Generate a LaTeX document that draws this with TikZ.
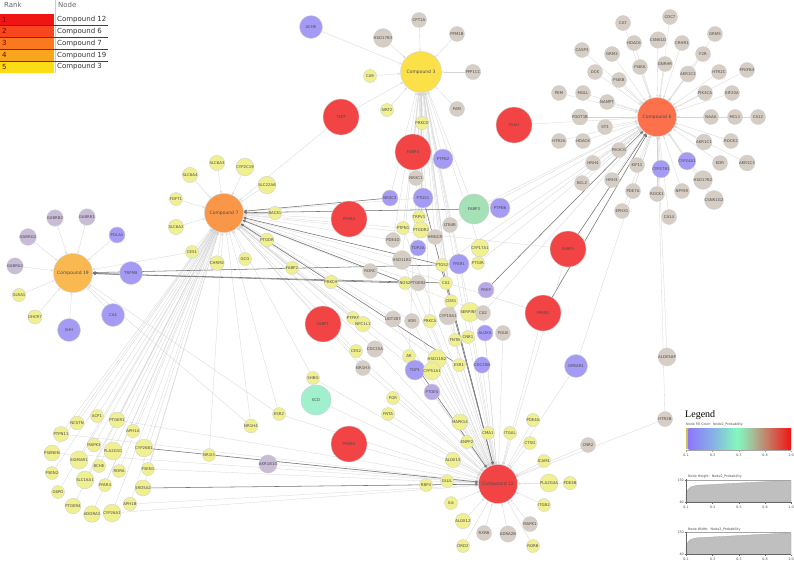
\documentclass[tikz,border=0pt]{standalone}
\usepackage{fontspec}
\setsansfont{DejaVu Sans}
\newfontfamily\legfont{Liberation Serif}
\usetikzlibrary{arrows.meta}
\pgfdeclarelayer{bg}
\pgfsetlayers{bg,main}
\definecolor{cRed}{RGB}{242,68,68}
\definecolor{cSix}{RGB}{252,112,76}
\definecolor{cSev}{RGB}{250,150,72}
\definecolor{cNin}{RGB}{250,185,80}
\definecolor{cThr}{RGB}{252,224,72}
\definecolor{cYel}{RGB}{240,240,145}
\definecolor{cTan}{RGB}{214,205,196}
\definecolor{cPur}{RGB}{165,155,245}
\definecolor{cLav}{RGB}{200,188,215}
\definecolor{cPre}{RGB}{185,168,232}
\definecolor{cGrn}{RGB}{165,225,182}
\definecolor{cAqu}{RGB}{160,240,205}
\definecolor{rA}{RGB}{240,20,20}
\definecolor{rB}{RGB}{250,70,30}
\definecolor{rC}{RGB}{250,120,30}
\definecolor{rD}{RGB}{250,165,30}
\definecolor{rE}{RGB}{252,220,20}
\definecolor{gY}{RGB}{205,195,80}
\definecolor{gA}{RGB}{140,120,250}
\definecolor{gB}{RGB}{135,175,230}
\definecolor{gC}{RGB}{130,248,190}
\definecolor{gD}{RGB}{160,200,160}
\definecolor{gE}{RGB}{200,120,100}
\definecolor{gF}{RGB}{240,20,20}
\tikzset{
 nd/.style={circle, inner sep=0pt, draw=gray!35, line width=0.4pt, text=black!70,
   font=\sffamily\fontsize{3.9}{4.5}\selectfont},
 ys/.style={nd, fill=cYel, minimum size=13pt},
 tn/.style={nd, fill=cTan, minimum size=15pt},
 pu/.style={nd, fill=cPur, minimum size=16pt},
 pm/.style={nd, fill=cPur, minimum size=20pt},
 pb/.style={nd, fill=cPur, minimum size=23pt},
 pl/.style={nd, fill=cPre, minimum size=16pt},
 lp/.style={nd, fill=cLav, minimum size=15pt},
 rd/.style={nd, fill=cRed, minimum size=36pt},
 gr/.style={nd, fill=cGrn, minimum size=30pt},
 aq/.style={nd, fill=cAqu, minimum size=30pt},
 cp/.style={nd, minimum size=39pt, font=\sffamily\fontsize{4.5}{5}\selectfont},
 lnk/.style={draw=gray!33, line width=0.3pt, -{Triangle[open,length=2.4pt,width=2.2pt]}},
 dk/.style={draw=black!55, line width=0.55pt, -{Triangle[length=3pt,width=2.6pt]}},
 tbl/.style={font=\sffamily\fontsize{7}{8}\selectfont, anchor=west, inner sep=0pt},
 tiny/.style={font=\sffamily\fontsize{3.3}{4}\selectfont, text=black!70, inner sep=0pt},
}
\begin{document}
\begin{tikzpicture}[x=1pt,y=-1pt]
\useasboundingbox (0,0) rectangle (794,562);

% rank table
\node[tbl, text=black!60] (hRank) at (4,5) {Rank};
\node[tbl, text=black!60] (hNode) at (58,5) {Node};
\fill[rA] (0,14) rectangle (54,25.5);
\fill[rB] (0,25.5) rectangle (54,37.3);
\fill[rC] (0,37.3) rectangle (54,49.3);
\fill[rD] (0,49.3) rectangle (54,61);
\fill[rE] (0,61) rectangle (54,72.5);
\draw[gray!40, line width=0.4pt] (55,0) -- (55,72.5);
\foreach \yy in {25.5,37.3,49.3,61} \draw[black!75, line width=0.6pt] (0,\yy) -- (108,\yy);
\foreach \k/\t/\yy in {1/Compound 12/19.8,2/Compound 6/31.4,3/Compound 7/43.3,4/Compound 19/55.2,5/Compound 3/66.8}{
  \node[tbl, text=black!55!red] (rk\k) at (2,\yy) {\k};
  \node[tbl, text=black!80] (rn\k) at (57,\yy) {\t};
}

% compounds
\node[cp, fill=cRed] (C12) at (498,484) {Compound 12};
\node[cp, fill=cSix] (C6) at (657,117) {Compound 6};
\node[cp, fill=cSev] (C7) at (224,213) {Compound 7};
\node[cp, fill=cNin] (C19) at (73,273) {Compound 19};
\node[cp, fill=cThr, minimum size=41pt] (C3) at (421,72) {Compound 3};

% nodes
\foreach \s/\n/\x/\y in {
 tn/CA7/623/23, tn/CDC7/670/17, tn/CSNK1D/658/40, tn/HDAC6/634/43, tn/CRHR1/682/43,
 tn/GRM5/715/34, tn/GRM2/612/54, tn/F2R/703/54, tn/PI4KA/640/67, tn/GNRHR/665/64,
 tn/AKR1C2/688/74, tn/HTR2C/719/72, tn/PFKFB3/747/70, tn/PI4KB/619/80, tn/PIK3CA/705/93,
 tn/KIF20A/732/93, tn/NAMPT/607/102, tn/NAAA/711/117, tn/MCL1/735/117, tn/CA12/758/117,
 tn/ST3/605/127, tn/AKR1C1/704/142, tn/ROCK2/731/141, tn/PIK3CG/619/150, tn/KDR/720/163,
 tn/AKR1C3/747/163, tn/KIF11/637/165, tn/HRH3/612/180, tn/HSD17B2/703/180, tn/PDE7A/633/191,
 tn/ROCK1/657/194, tn/NPY5R/682/191, tn/CSNK1G2/714/200, tn/EPHX1/622/211, tn/CA14/669/217,
 tn/CASP3/582/50, tn/DCK/595/72, tn/PKM/559/93, tn/MGLL/583/93, tn/PGGT1B/580/117,
 tn/HTR2A/559/141, tn/HDAC8/583/141, tn/HRH4/593/163, tn/BCL2/582/183, tn/ALOX5AP/667/357,
 tn/HTR2B/665/419, tn/CNR2/588/445, pu/CYP24A1/687/161, pu/CYP27B1/661/169,
 tn/CPT1A/419/20, tn/PPM1B/457/34, tn/PPP1CC/473/72, tn/PAM/457/109, tn/HSD17B3/383/38,
 tn/NR3C1/416/178, ys/CA9/370/76, ys/SIRT2/387/110, ys/PRKCD/422/123, pb/ACHE/311/27,
 pm/PTPN2/443/159,
 rd/TERT/341/117, rd/FABP4/413/152, rd/FAAH/514/125, rd/PPARA/349/219, rd/FABP1/323/324,
 rd/FABP5/568/249, rd/PPARD/543/313, rd/PPARG/349/444,
 lp/GABRB2/55/218, lp/GABRR1/87/217, lp/GABRG2/28/237, lp/GABRA2/15/266, pu/POLA1/117/235,
 pb/TRPM8/131/273, ys/GLRA1/19/295, ys/DHCR7/35/317, pb/CA4/113/315, pb/SHH/69/330,
 ys/SLC6A4/190/175, ys/SLC6A3/217/163, ys/CYP2C19/245/167, ys/SLC22A6/267/185, ys/FDFT1/176/199,
 ys/SLC6A2/176/227, ys/CES1/192/252, ys/BACE1/275/213, ys/PTGDR/267/240, ys/CHRM2/217/263,
 ys/GCG/245/259, ys/FABP2/292/268, ys/PRKCH/331/282,
 pu/NR3C2/390/198, pm/PTGS1/423/198, gr/FABP3/474/209, pm/PTPN6/500/208, ys/TRPV1/419/217,
 ys/PTPN1/403/228, ys/PTGDR2/421/230, tn/LTB4R/450/225, tn/HMGCR/435/237, tn/PDE4D/393/240,
 pu/TOP2A/418/248, ys/CYP17A1/480/248, tn/HSD11B1/402/260, ys/PTGS2/442/265, pm/FFAR1/459/264,
 ys/PTGIR/478/263, tn/RORC/370/271, ys/NOS2/405/283, tn/PTGER2/418/283, ys/CA1/446/283,
 pl/PREP/486/290, ys/CD81/451/301, ys/PTPRF/353/318, ys/NPC1L1/363/324, tn/UGT2B7/393/319,
 tn/VDR/412/321, ys/PRKCA/430/321, tn/CYP19A1/448/316, ys/SERPINE1/470/312, tn/CA2/483/313,
 pu/ALOX5/485/333, tn/POLB/503/333, ys/FNTB/455/340, ys/CNR1/468/337, ys/CES2/356/351,
 tn/CDC25A/375/349, tn/NR1H3/363/368, ys/AR/409/356, ys/HSD11B2/437/359, ys/ESR1/459/365,
 pu/CDC25B/482/365, pb/GPBAR1/576/366, pm/TOP1/415/370, ys/CYP51A1/432/371, pl/PTGES/432/392,
 ys/SHBG/313/378, aq/SCD/316/400, ys/ESR2/279/414, ys/NR1H4/251/426, ys/NR1I3/209/455,
 lp/AKR1B10/268/464, ys/PGR/393/398, ys/FNTA/388/414,
 ys/MAPK14/460/422, ys/PDE4A/533/420, ys/CMA1/488/433, ys/ITGAL/510/433, ys/ENPP2/467/442,
 ys/CTSG/530/443, ys/ALOX15/453/460, ys/ICAM1/544/461, ys/GLUL/447/481, ys/RBP4/426/485,
 ys/PLA2G4A/549/483, ys/PDE4B/570/483, ys/IL6/451/503, ys/ITGB2/544/505, tn/MAPK1/530/524,
 ys/ALOX12/463/521, tn/RXRB/484/533, tn/ADRA2B/508/534, ys/DRD2/463/546, ys/RORB/533/546,
 ys/NCSTN/77/423, ys/ACP1/97/416, ys/PTGER1/117/420, ys/PTPN11/61/434, ys/APH1A/133/431,
 ys/MAPK3/94/445, ys/PLA2G10/113/451, ys/CYP26B1/144/448, ys/PSENEN/52/453, ys/SIGMAR1/79/460,
 ys/BCHE/99/466, ys/RORA/119/471, ys/PSEN1/148/469, ys/PSEN2/52/473, ys/SLC16A1/85/480,
 ys/FFAR4/105/485, ys/SRD5A2/143/488, ys/G6PD/58/492, ys/APH1B/130/504, ys/PTGER4/73/506,
 ys/ADORA3/92/514, ys/CYP26A1/112/513}
 { \node[\s] (\n) at (\x,\y) {\n}; }

\begin{pgfonlayer}{bg}
\fill[white] (0,0) rectangle (794,562);
% compound 6
\foreach \n in {CA7,CDC7,CSNK1D,HDAC6,CRHR1,GRM5,GRM2,F2R,PI4KA,GNRHR,AKR1C2,HTR2C,PFKFB3,
 PI4KB,PIK3CA,KIF20A,NAMPT,NAAA,MCL1,CA12,ST3,AKR1C1,ROCK2,PIK3CG,KDR,AKR1C3,KIF11,HRH3,
 HSD17B2,PDE7A,ROCK1,NPY5R,CSNK1G2,EPHX1,CA14,CASP3,DCK,PKM,MGLL,PGGT1B,HTR2A,HDAC8,HRH4,
 BCL2,ALOX5AP,HTR2B,CYP24A1,CYP27B1,FAAH,GPBAR1,PTGS2,CYP17A1,PTPN6,FABP3,LTB4R,PTGIR,CA2}
 \draw[lnk] (\n) -- (C6);
\foreach \n in {FABP5,PREP,PPARD} \draw[dk] (\n) -- (C6);
% compound 3
\foreach \n in {CPT1A,PPM1B,PPP1CC,PAM,HSD17B3,CA9,SIRT2,PRKCD,ACHE,NR3C1,PTPN2,FABP4,TERT,
 NR3C2,PTGS1,TRPV1,PTPN1,PTGDR2,LTB4R,HMGCR,TOP2A,PTGS2,FFAR1,CA1,CD81,PDE4D,HSD11B1,PRKCA,
 FABP3,CYP17A1,SERPINE1,CNR1,FNTB,ESR1,AR}
 \draw[lnk] (\n) -- (C3);
% compound 7
\foreach \n in {SLC6A4,SLC6A3,CYP2C19,SLC22A6,FDFT1,SLC6A2,CES1,BACE1,PTGDR,CHRM2,GCG,FABP2,
 PRKCH,PPARA,FABP1,TERT,NCSTN,ACP1,PTGER1,PTPN11,APH1A,MAPK3,PLA2G10,CYP26B1,PSENEN,SIGMAR1,
 BCHE,RORA,PSEN1,PSEN2,SLC16A1,FFAR4,SRD5A2,G6PD,APH1B,PTGER4,ADORA3,CYP26A1,NR1I3,NR1H4,
 ESR2,SHBG,PDE4D,PTGS1,PTPN1,HSD11B1,PTGER2,FABP5,PPARD,RORC,VDR,PTPRF,NPC1L1,UGT2B7,CES2,
 CDC25A,NR1H3,AR,TOP1,HSD11B2,CA2}
 \draw[lnk] (\n) -- (C7);
\foreach \n in {NR3C2,NOS2,FABP3,ESR1,PTGS2} \draw[dk] (\n) -- (C7);
% compound 12
\foreach \n in {MAPK14,PDE4A,CMA1,ITGAL,ENPP2,CTSG,ALOX15,ICAM1,GLUL,RBP4,PLA2G4A,PDE4B,IL6,
 ITGB2,MAPK1,ALOX12,RXRB,ADRA2B,DRD2,RORB,PTGES,CNR2,HTR2B,SCD,PPARG,AKR1B10,SHBG,PGR,FNTA,
 ESR2,NR1I3,PTGER1,PSEN1,APH1B,CYP26A1,PTPN11,PSENEN,PTPN1,HSD11B1,HSD11B2,ESR1,TOP1,CYP51A1,
 CDC25B,ALOX5,CNR1,FNTB,POLB,CA2,SERPINE1,CYP19A1,PRKCA,VDR,PPARD,GPBAR1,FABP5,FFAR1,CD81,CA1,
 NOS2,UGT2B7,NR1H3,CDC25A,FABP1}
 \draw[lnk] (\n) -- (C12);
\foreach \n in {CYP26B1,SRD5A2,PTGS2,PTGS1,AR} \draw[dk] (\n) -- (C12);
% compound 19
\foreach \n in {GABRB2,GABRR1,GABRG2,GABRA2,POLA1,TRPM8,GLRA1,CA4,DHCR7,SHH,ESR2,NR1H4,CES1}
 \draw[lnk] (\n) -- (C19);
\foreach \n in {PTGS2,NOS2,CA1} \draw[dk] (\n) -- (C19);
\end{pgfonlayer}

% legend
\node[anchor=west, inner sep=0pt, font=\legfont\fontsize{10}{11}\selectfont] (legT) at (685,415) {Legend};
\node[tiny, anchor=west] (legF) at (686,424.5) {Node Fill Color:\ \ Node2\_Probability};
\fill[gY] (686,428) rectangle (688.5,449);
\shade[left color=gA, right color=gB] (688.5,428) rectangle (712,449);
\shade[left color=gB, right color=gC] (712,428) rectangle (737,449);
\shade[left color=gC, right color=gD] (737,428) rectangle (750,449);
\shade[left color=gD, right color=gE] (750,428) rectangle (768,449);
\shade[left color=gE, right color=gF] (768,428) rectangle (791,449);
\draw[gray!70, line width=0.3pt] (686,450.5) -- (791,450.5);
\foreach \xx/\t in {686/0.1,712.5/0.3,739/0.5,765/0.8,791/1.0}{
  \draw[gray!70, line width=0.3pt] (\xx,450.5) -- (\xx,452);
  \node[tiny] at (\xx,455.5) {\t};
}
\foreach \oy/\t in {0/Node Height:\ \ Node2\_Probability,52.5/Node Width:\ \ Node2\_Probability}{
  \begin{scope}[yshift=-\oy pt]
  \node[tiny, anchor=west] at (688,477) {\t};
  \fill[gray!50, draw=gray!70, line width=0.3pt] (686,502) -- (686,494) -- (688,489.5) -- (691,486.8) -- (697,485.3) -- (791,480.3) -- (791,502) -- cycle;
  \draw[gray!70, line width=0.3pt] (686,480) -- (791,480);
  \draw[black!60, line width=0.3pt] (686,479) -- (686,503) (686,502) -- (791,502);
  \draw[black!60, line width=0.3pt] (684.5,480) -- (686,480) (684.5,502) -- (686,502);
  \node[tiny, anchor=east] at (684,480) {150};
  \node[tiny, anchor=east] at (684,502) {40};
  \foreach \xx/\tt in {686/0.1,712.5/0.3,739/0.5,765/0.8,791/1.0}{
    \draw[black!60, line width=0.3pt] (\xx,502) -- (\xx,503.5);
    \node[tiny] at (\xx,507) {\tt};
  }
  \end{scope}
}
\end{tikzpicture}
\end{document}
